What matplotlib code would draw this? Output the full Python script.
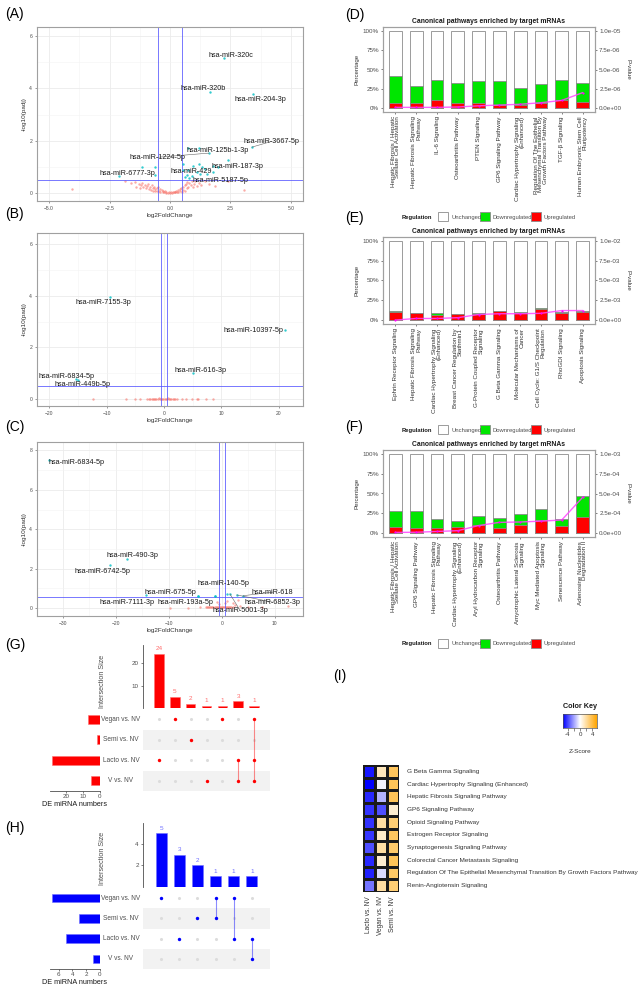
import matplotlib
matplotlib.use('Agg')
import matplotlib.pyplot as plt
import numpy as np
from matplotlib.patches import Rectangle
from matplotlib.colors import LinearSegmentedColormap

plt.rcParams['font.family'] = ['Liberation Sans', 'DejaVu Sans']

# ---------------- DATA ----------------
# Volcano A
red_A = [(-4.05, 0.15), (-1.85, 0.45), (-1.6, 0.38), (-1.45, 0.42), (-1.4, 0.25), (-1.3, 0.35),
         (-1.25, 0.2), (-1.2, 0.3), (-1.15, 0.4), (-1.1, 0.22), (-1.05, 0.32), (-1.0, 0.18),
         (-0.95, 0.28), (-0.9, 0.35), (-0.88, 0.15), (-0.82, 0.25), (-0.8, 0.12), (-0.75, 0.3),
         (-0.72, 0.2), (-0.7, 0.1), (-0.65, 0.22), (-0.62, 0.14), (-0.6, 0.08), (-0.55, 0.18),
         (-0.52, 0.1), (-0.5, 0.25), (-0.45, 0.07), (-0.42, 0.15), (-0.4, 0.05), (-0.35, 0.12),
         (-0.3, 0.04), (-0.28, 0.1), (-0.25, 0.03), (-0.2, 0.07), (-0.18, 0.02), (-0.15, 0.05),
         (-0.1, 0.02), (-0.05, 0.04), (0.0, 0.01), (0.03, 0.03), (0.08, 0.02), (0.12, 0.05),
         (0.15, 0.03), (0.2, 0.06), (0.22, 0.03), (0.25, 0.09), (0.3, 0.05), (0.33, 0.12),
         (0.35, 0.04), (0.4, 0.15), (0.42, 0.08), (0.45, 0.2), (0.5, 0.06), (0.52, 0.25),
         (0.55, 0.12), (0.6, 0.3), (0.62, 0.1), (0.65, 0.35), (0.7, 0.18), (0.72, 0.42),
         (0.75, 0.25), (0.8, 0.4), (0.85, 0.3), (0.9, 0.45), (0.95, 0.22), (1.0, 0.35),
         (1.05, 0.48), (1.1, 0.28), (1.2, 0.4), (1.3, 0.3), (1.45, 0.45), (1.6, 0.35),
         (1.85, 0.28), (2.4, 0.45), (3.05, 0.12)]
sig_A = [(-1.17, 1.0), (-0.62, 1.0), (-0.62, 0.7), (0.52, 1.13), (0.96, 1.04), (1.2, 1.13),
         (1.31, 1.0), (1.45, 0.94), (1.1, 0.81), (1.24, 0.75), (0.69, 0.69), (0.9, 0.65),
         (1.52, 0.75), (1.79, 0.81), (2.0, 1.0), (2.41, 1.25), (1.2, 1.72), (0.52, 0.87),
         (0.62, 0.62)]
# name, point x, point y, label x, label y, connector
lab_A = [("hsa-miR-320c", 2.23, 5.15, 2.52, 5.27, False),
         ("hsa-miR-320b", 1.65, 3.86, 1.36, 4.0, False),
         ("hsa-miR-204-3p", 3.43, 3.78, 3.72, 3.59, False),
         ("hsa-miR-3667-5p", 3.39, 1.76, 4.21, 1.98, True),
         ("hsa-miR-125b-1-3p", 0.74, 1.72, 1.98, 1.64, False),
         ("hsa-miR-1224-5p", 1.61, 1.53, -0.54, 1.37, True),
         ("hsa-miR-187-3p", 1.78, 1.03, 2.77, 1.03, False),
         ("hsa-miR-429", 0.73, 0.9, 0.87, 0.84, False),
         ("hsa-miR-6777-3p", -2.1, 0.66, -1.78, 0.76, False),
         ("hsa-miR-5187-5p", 0.77, 0.56, 2.07, 0.5, False)]

# Volcano B
red_B = [(-12.4, 0.02), (-6.6, 0.02), (-5.1, 0.01), (-4.2, 0.02), (-3.0, 0.01), (-2.6, 0.02),
         (-2.4, 0.0), (-2.1, 0.02), (-1.9, 0.01), (-1.7, 0.02), (-1.5, 0.0), (-1.3, 0.02),
         (-1.1, 0.01), (-0.9, 0.03), (-0.7, 0.0), (-0.5, 0.02), (-0.3, 0.01), (-0.1, 0.02),
         (0.1, 0.0), (0.3, 0.02), (0.5, 0.01), (0.7, 0.03), (0.9, 0.0), (1.1, 0.02),
         (1.3, 0.01), (1.5, 0.02), (1.7, 0.0), (2.0, 0.02), (2.2, 0.01), (3.1, 0.02),
         (3.9, 0.01), (4.8, 0.02), (5.7, 0.01), (6.0, 0.02), (7.4, 0.01), (8.6, 0.02)]
lab_B = [("hsa-miR-7155-3p", -9.4, 3.95, -10.6, 3.72, False),
         ("hsa-miR-10397-5p", 21.0, 2.67, 15.5, 2.67, False),
         ("hsa-miR-6834-5p", -15.3, 0.78, -16.9, 0.89, False),
         ("hsa-miR-449b-5p", -15.0, 0.72, -14.1, 0.58, False),
         ("hsa-miR-616-3p", 5.0, 1.0, 6.3, 1.12, False)]

# Volcano C
red_C = [(-9.8, 0.02), (-6.4, 0.03), (-4.2, 0.08), (-3.0, 0.05), (-2.8, 0.06), (-2.6, 0.04),
         (-2.4, 0.06), (-2.2, 0.05), (-2.0, 0.07), (-1.8, 0.04), (-1.6, 0.06), (-1.4, 0.05),
         (-1.2, 0.08), (-1.0, 0.05), (-0.8, 0.06), (-0.6, 0.04), (-0.4, 0.07), (-0.2, 0.05),
         (0.0, 0.06), (0.2, 0.04), (0.4, 0.07), (0.6, 0.05), (0.8, 0.06), (1.0, 0.05),
         (1.2, 0.07), (1.4, 0.05), (1.6, 0.06), (1.8, 0.05), (2.0, 0.07), (-1.0, 0.3),
         (1.0, 0.35), (2.0, 0.25), (3.0, 0.4), (2.5, 0.15), (3.5, 0.1), (5.0, 0.08),
         (7.5, 0.05), (12.5, 0.1), (-0.5, 0.2), (0.5, 0.25)]
sig_C = [(-4.5, 0.63), (-1.3, 0.63)]
lab_C = [("hsa-miR-6834-5p", -32.6, 7.5, -27.4, 7.41, False),
         ("hsa-miR-490-3p", -18.0, 2.5, -16.8, 2.69, False),
         ("hsa-miR-6742-5p", -21.1, 2.2, -22.6, 1.88, False),
         ("hsa-miR-140-5p", 0.9, 0.72, 0.2, 1.27, False),
         ("hsa-miR-675-5p", -14.3, 0.65, -9.8, 0.81, False),
         ("hsa-miR-618", 4.0, 0.63, 9.6, 0.81, True),
         ("hsa-miR-7111-3p", -4.5, 0.63, -17.9, 0.3, False),
         ("hsa-miR-193a-5p", -1.3, 0.63, -6.8, 0.3, False),
         ("hsa-miR-6852-3p", 2.8, 0.67, 9.6, 0.3, True),
         ("hsa-miR-5001-3p", 1.5, 0.72, 3.4, -0.1, True)]

# Pathway bar charts
path_D = ["Hepatic Fibrosis / Hepatic\nStellate Cell Activation", "Hepatic Fibrosis Signaling\nPathway",
          "IL-6 Signaling", "Osteoarthritis Pathway", "PTEN Signaling", "GP6 Signaling Pathway",
          "Cardiac Hypertrophy Signaling\n(Enhanced)",
          "Regulation Of The Epithelial\nMesenchymal Transition By\nGrowth Factors Pathway",
          "TGF-β Signaling", "Human Embryonic Stem Cell\nPluripotency"]
changed_D = [0.42, 0.28, 0.36, 0.32, 0.35, 0.35, 0.26, 0.31, 0.36, 0.33]
up_D = [0.06, 0.06, 0.10, 0.07, 0.07, 0.04, 0.04, 0.06, 0.11, 0.08]
pval_D = [0.1e-6, 0.1e-6, 0.1e-6, 0.15e-6, 0.3e-6, 0.4e-6, 0.5e-6, 0.7e-6, 1.0e-6, 2.0e-6]

path_E = ["Ephrin Receptor Signaling", "Hepatic Fibrosis Signaling\nPathway",
          "Cardiac Hypertrophy Signaling\n(Enhanced)", "Breast Cancer Regulation by\nStathmin1",
          "G-Protein Coupled Receptor\nSignaling", "G Beta Gamma Signaling",
          "Molecular Mechanisms of\nCancer", "Cell Cycle: G1/S Checkpoint\nRegulation",
          "RhoGDI Signaling", "Apoptosis Signaling"]
changed_E = [0.12, 0.09, 0.09, 0.08, 0.09, 0.12, 0.10, 0.15, 0.10, 0.12]
up_E = [0.10, 0.09, 0.07, 0.08, 0.08, 0.11, 0.09, 0.14, 0.09, 0.10]
pval_E = [0.0, 0.2e-3, 0.2e-3, 0.3e-3, 0.7e-3, 0.8e-3, 0.8e-3, 0.85e-3, 1.2e-3, 1.2e-3]

path_F = ["Hepatic Fibrosis / Hepatic\nStellate Cell Activation", "GP6 Signaling Pathway",
          "Hepatic Fibrosis Signaling\nPathway", "Cardiac Hypertrophy Signaling\n(Enhanced)",
          "Aryl Hydrocarbon Receptor\nSignaling", "Osteoarthritis Pathway",
          "Amyotrophic Lateral Sclerosis\nSignaling", "Myc Mediated Apoptosis\nSignaling",
          "Senescence Pathway", "Adenosine Nucleotides\nDegradation II"]
changed_F = [0.28, 0.28, 0.18, 0.15, 0.22, 0.19, 0.24, 0.30, 0.18, 0.47]
up_F = [0.08, 0.06, 0.07, 0.08, 0.10, 0.07, 0.10, 0.17, 0.09, 0.20]
pval_F = [0.08e-4, 0.1e-4, 0.2e-4, 0.3e-4, 0.95e-4, 1.35e-4, 1.4e-4, 1.5e-4, 1.65e-4, 4.5e-4]

# UpSet G / H
set_names = ["Vegan vs. NV", "Semi vs. NV", "Lacto vs. NV", "V vs. NV"]
combos_G = [["Lacto vs. NV"], ["Vegan vs. NV"], ["Semi vs. NV"], ["V vs. NV"], ["Vegan vs. NV"],
            ["Lacto vs. NV", "V vs. NV"], ["Vegan vs. NV", "Lacto vs. NV", "V vs. NV"]]
counts_G = [24, 5, 2, 1, 1, 3, 1]
sizes_G = [7, 2, 28, 5]
combos_H = [["Vegan vs. NV"], ["Lacto vs. NV"], ["Semi vs. NV"], ["Vegan vs. NV", "Semi vs. NV"],
            ["Vegan vs. NV", "Lacto vs. NV"], ["Lacto vs. NV", "V vs. NV"]]
counts_H = [5, 3, 2, 1, 1, 1]
sizes_H = [7, 3, 5, 1]

# Heatmap I
heat_rows = ["G Beta Gamma Signaling", "Cardiac Hypertrophy Signaling (Enhanced)",
             "Hepatic Fibrosis Signaling Pathway", "GP6 Signaling Pathway", "Opioid Signaling Pathway",
             "Estrogen Receptor Signaling", "Synaptogenesis Signaling Pathway",
             "Colorectal Cancer Metastasis Signaling",
             "Regulation Of The Epithelial Mesenchymal Transition By Growth Factors Pathway",
             "Renin-Angiotensin Signaling"]
heat_cols = ["Lacto vs. NV", "Vegan vs. NV", "Semi vs. NV"]
z_lacto = [-5.0, -5.5, -4.6, -4.4, -4.4, -4.3, -3.8, -4.6, -4.8, -3.0]
z_vegan = [1.5, -0.3, -1.6, -3.8, 2.0, 1.2, 2.0, 1.0, -0.8, 2.0]
z_semi = [3.5, 3.6, 3.6, 1.0, 3.0, 3.4, 3.2, 3.6, 3.3, 3.0]

# ---------------- FIGURE ----------------
W, H = 641, 988
fig = plt.figure(figsize=(W / 100, H / 100), dpi=100)


def ax_px(l, t, r, b):
    return fig.add_axes([l / W, 1 - b / H, (r - l) / W, (b - t) / H])


def ftext(x, y, s, **kw):
    fig.text(x / W, 1 - y / H, s, **kw)


def frect(l, t, w, h, **kw):
    fig.patches.append(Rectangle((l / W, 1 - (t + h) / H), w / W, h / H,
                                 transform=fig.transFigure, **kw))


TICKC = '#4d4d4d'
RED_PT = '#F8766D'
CYAN_PT = '#00BFC4'


def volcano(box, xlim, ylim, xmaj, xmin, ymaj, ymin, red, sig, labs, vl, hl):
    ax = ax_px(*box)
    ax.set_xlim(xlim)
    ax.set_ylim(ylim)
    ax.set_xticks(xmaj)
    ax.set_xticks(xmin, minor=True)
    ax.set_yticks(ymaj)
    ax.set_yticks(ymin, minor=True)
    ax.grid(True, which='major', color='#ebebeb', lw=0.6)
    ax.grid(True, which='minor', color='#f3f3f3', lw=0.4)
    ax.set_axisbelow(True)
    ax.tick_params(which='major', labelsize=3.6, colors=TICKC, length=1.5, width=0.4, pad=2)
    ax.tick_params(which='minor', length=0)
    for s in ax.spines.values():
        s.set_color('#a0a0a0')
        s.set_linewidth(0.8)
    rx = [p[0] for p in red]
    ry = [p[1] for p in red]
    ax.scatter(rx, ry, s=3, color=RED_PT, alpha=0.6, lw=0, zorder=2)
    sx = [p[0] for p in sig] + [l[1] for l in labs]
    sy = [p[1] for p in sig] + [l[2] for l in labs]
    ax.scatter(sx, sy, s=3, color=CYAN_PT, alpha=0.8, lw=0, zorder=3)
    for v in vl:
        ax.axvline(v, color='#5555ff', lw=0.7, alpha=0.8, zorder=2.5)
    ax.axhline(hl, color='#5555ff', lw=0.7, alpha=0.8, zorder=2.5)
    for name, px, py, tx, ty, con in labs:
        if con:
            ax.plot([px, tx], [py, ty], color='#666666', lw=0.4, zorder=3)
        ax.text(tx, ty, name, fontsize=5.2, ha='center', va='center', color='#1a1a1a', zorder=4)
    ax.set_xlabel('log2FoldChange', fontsize=4.6, color='#333333', labelpad=1.5)
    ax.set_ylabel('-log10(padj)', fontsize=4.6, color='#333333', labelpad=2)
    return ax


# A
volcano((37, 27, 303, 201), (-5.5, 5.5), (-0.3, 6.35), [-5, -2.5, 0, 2.5, 5],
        [-3.75, -1.25, 1.25, 3.75], [0, 2, 4, 6], [1, 3, 5], red_A, sig_A, lab_A, [-0.5, 0.5], 0.52)
# B
volcano((37, 233, 303, 406), (-22.1, 24.2), (-0.27, 6.43), [-20, -10, 0, 10, 20],
        [-15, -5, 5, 15], [0, 2, 4, 6], [1, 3, 5], red_B, [], lab_B, [-0.5, 0.5], 0.5)
# C
volcano((37, 442, 303, 616), (-34.9, 15.3), (-0.4, 8.43), [-30, -20, -10, 0, 10],
        [-25, -15, -5, 5], [0, 2, 4, 6, 8], [1, 3, 5, 7], red_C, sig_C, lab_C, [-0.5, 0.5], 0.56)

ftext(5, 14, '(A)', fontsize=10, va='center')
ftext(5, 214, '(B)', fontsize=10, va='center')
ftext(5, 427, '(C)', fontsize=10, va='center')


# Pathway bar charts
def pathway(top, bottom, labels, changed, up, pvals, pmax, plabels):
    ax = ax_px(383, top, 595, bottom)
    n = len(labels)
    xs = np.arange(n)
    w = 0.62
    ec = '#8c8c8c'
    ax.bar(xs, [1.0] * n, width=w, color='white', edgecolor=ec, lw=0.6, zorder=2)
    ax.bar(xs, changed, width=w, color='#00e600', edgecolor=ec, lw=0.6, zorder=3)
    ax.bar(xs, up, width=w, color='#ff0000', edgecolor=ec, lw=0.6, zorder=4)
    ax.set_xlim(-0.6, n - 0.4)
    ax.set_ylim(-0.05, 1.05)
    ax.set_yticks([0, 0.25, 0.5, 0.75, 1.0])
    ax.set_yticklabels(['0%', '25%', '50%', '75%', '100%'])
    ax.set_xticks(xs)
    ax.set_xticklabels(labels, rotation=90, ha='center', va='top', multialignment='right',
                       fontsize=4.5, color='#333333', linespacing=0.95)
    ax.tick_params(axis='y', labelsize=4.5, colors=TICKC, length=1.5, width=0.5, pad=1.5)
    ax.tick_params(axis='x', length=1.5, width=0.5, pad=1.5, colors=TICKC)
    for lbl in ax.get_xticklabels():
        lbl.set_color('#333333')
    for s in ax.spines.values():
        s.set_color('#a0a0a0')
        s.set_linewidth(0.8)
    ax.set_ylabel('Percentage', fontsize=4.4, color='#333333', labelpad=2)
    ax2 = ax.twinx()
    ax2.set_ylim(-0.05 * pmax, 1.05 * pmax)
    ax2.set_yticks([0, 0.25 * pmax, 0.5 * pmax, 0.75 * pmax, pmax])
    ax2.set_yticklabels(plabels)
    ax2.tick_params(axis='y', labelsize=4.5, colors=TICKC, length=1.5, width=0.5, pad=1.5)
    ax2.plot(xs, pvals, color='#ff44ff', lw=1.0, alpha=0.85, zorder=5)
    ax2.scatter(xs, pvals, s=2.5, color='#ff00ff', zorder=6, lw=0)
    ax2.set_ylabel('P-value', fontsize=4.4, color='#333333', rotation=270, labelpad=6)
    for s in ax2.spines.values():
        s.set_color('#a0a0a0')
        s.set_linewidth(0.8)
    ax.set_title('Canonical pathways enriched by target mRNAs', fontsize=4.9,
                 fontweight='bold', color='#1a1a1a', pad=3)
    return ax


pathway(27, 112, path_D, changed_D, up_D, pval_D, 1e-5,
        ['0.0e+00', '2.5e-06', '5.0e-06', '7.5e-06', '1.0e-05'])
pathway(237, 324, path_E, changed_E, up_E, pval_E, 1e-2,
        ['0.0e+00', '2.5e-03', '5.0e-03', '7.5e-03', '1.0e-02'])
pathway(450, 537, path_F, changed_F, up_F, pval_F, 1e-3,
        ['0.0e+00', '2.5e-04', '5.0e-04', '7.5e-04', '1.0e-03'])

ftext(345, 15, '(D)', fontsize=10, va='center')
ftext(345, 218, '(E)', fontsize=10, va='center')
ftext(345, 427, '(F)', fontsize=10, va='center')


def reg_legend(yc):
    ftext(417, yc, 'Regulation', fontsize=4.2, fontweight='bold', ha='center', va='center', color='#1a1a1a')
    frect(438, yc - 4.5, 10, 9, facecolor='white', edgecolor='#8c8c8c', lw=0.6)
    ftext(451, yc, 'Unchanged', fontsize=4.2, ha='left', va='center', color='#4d4d4d')
    frect(480, yc - 4.5, 10, 9, facecolor='#00e600', edgecolor='#8c8c8c', lw=0.6)
    ftext(492, yc, 'Downregulated', fontsize=4.2, ha='left', va='center', color='#4d4d4d')
    frect(531, yc - 4.5, 10, 9, facecolor='#ff0000', edgecolor='#8c8c8c', lw=0.6)
    ftext(543, yc, 'Upregulated', fontsize=4.2, ha='left', va='center', color='#4d4d4d')


reg_legend(217)
reg_legend(430)
reg_legend(643)


# UpSet plots
def upset(top_t, top_b, mat_t, mat_b, combos, counts, sizes, ylim_top, yticks_top,
          xlim_set, xticks_set, color, numcolor, lbl_y):
    nc = len(combos)
    axt = ax_px(143, top_t, 270, top_b)
    xs = np.arange(nc)
    axt.bar(xs, counts, width=0.6, color=color, edgecolor=numcolor, lw=0.4)
    for x, c in zip(xs, counts):
        axt.text(x, c + ylim_top * 0.04, str(c), ha='center', va='bottom', fontsize=4.6, color=numcolor)
    axt.set_xlim(-1, nc)
    axt.set_ylim(0, ylim_top)
    axt.set_yticks(yticks_top)
    axt.set_xticks([])
    for k in ['top', 'right', 'bottom']:
        axt.spines[k].set_visible(False)
    axt.spines['left'].set_color('#4d4d4d')
    axt.spines['left'].set_linewidth(0.6)
    axt.tick_params(axis='y', labelsize=4.5, colors=TICKC, length=1.5, width=0.5, pad=1.5)
    axt.patch.set_alpha(0)
    ftext(102, lbl_y, 'Intersection Size', fontsize=5.2, rotation=90, ha='center', va='center', color='#4d4d4d')
    axm = ax_px(143, mat_t, 270, mat_b)
    axm.set_xlim(-1, nc)
    axm.set_ylim(-0.5, 3.5)
    for i, nm in enumerate(set_names):
        yv = 3 - i
        if i % 2 == 1:
            axm.add_patch(Rectangle((-1, yv - 0.5), nc + 1, 1, color='#f2f2f2', lw=0, zorder=0))
    for j, combo in enumerate(combos):
        ys_in = [3 - set_names.index(s) for s in combo]
        for i in range(4):
            yv = 3 - i
            if yv not in ys_in:
                axm.scatter([j], [yv], s=5, color='#dcdcdc', lw=0, zorder=2)
        if len(ys_in) > 1:
            axm.plot([j, j], [min(ys_in), max(ys_in)], color=color, lw=0.8, alpha=0.45, zorder=2)
        axm.scatter([j] * len(ys_in), ys_in, s=6, color=color, lw=0, zorder=3)
    axm.axis('off')
    axs = ax_px(50, mat_t, 100, mat_b)
    yvals = [3 - i for i in range(4)]
    axs.barh(yvals, sizes, height=0.42, color=color, edgecolor=numcolor, lw=0.4)
    axs.set_xlim(xlim_set)
    axs.set_ylim(-0.5, 3.5)
    axs.set_xticks(xticks_set)
    axs.set_yticks([])
    for k in ['top', 'right', 'left']:
        axs.spines[k].set_visible(False)
    axs.spines['bottom'].set_color('#4d4d4d')
    axs.spines['bottom'].set_linewidth(0.6)
    axs.tick_params(axis='x', labelsize=4.5, colors=TICKC, length=1.5, width=0.5, pad=1)
    axs.set_xlabel('DE miRNA numbers', fontsize=5.2, color='#1a1a1a', labelpad=1)
    axs.patch.set_alpha(0)
    for i, nm in enumerate(set_names):
        yv = 3 - i
        y_px = mat_t + (3.5 - yv) / 4.0 * (mat_b - mat_t)
        ftext(121, y_px, nm, fontsize=4.7, ha='center', va='center', color='#4d4d4d')


upset(645, 708, 709, 791, combos_G, counts_G, sizes_G, 28, [10, 20], (29.4, 0), [20, 10, 0],
      '#ff0000', '#ff6f6f', 681)
upset(823, 887, 888, 969, combos_H, counts_H, sizes_H, 5.95, [2, 4], (7.25, 0), [6, 4, 2, 0],
      '#0000ff', '#7070ff', 858)

ftext(5, 645, '(G)', fontsize=10, va='center')
ftext(5, 828, '(H)', fontsize=10, va='center')

# Heatmap I
ftext(333, 676, '(I)', fontsize=10, va='center')
cmap = LinearSegmentedColormap.from_list('bwo', ['#0000ff', '#ffffff', '#ffa500'])
Z = np.array([z_lacto, z_vegan, z_semi]).T
axh = ax_px(363, 765, 399, 892)
axh.pcolormesh(np.arange(4), np.arange(len(heat_rows) + 1), Z, cmap=cmap, vmin=-5.5, vmax=5.5,
               edgecolors='#1a1a1a', linewidth=0.8)
axh.set_xlim(0, 3)
axh.set_ylim(len(heat_rows), 0)
axh.set_xticks(np.arange(3) + 0.5)
axh.set_xticklabels(heat_cols, rotation=90, fontsize=4.7, color='#333333')
axh.set_yticks([])
axh.tick_params(axis='x', length=0, pad=3)
for s in axh.spines.values():
    s.set_visible(False)
for i, r in enumerate(heat_rows):
    y_px = 765 + (i + 0.5) * (892 - 765) / len(heat_rows)
    ftext(407, y_px, r, fontsize=4.55, ha='left', va='center', color='#333333')

# Color key
ftext(580, 707, 'Color Key', fontsize=5.2, fontweight='bold', ha='center', va='center', color='#1a1a1a')
axk = ax_px(563, 714, 597, 728)
grad = np.linspace(-5.5, 5.5, 200).reshape(1, -1)
axk.imshow(grad, aspect='auto', cmap=cmap, vmin=-5.5, vmax=5.5, extent=(-5.5, 5.5, 0, 1))
axk.set_xlim(-5.5, 5.5)
axk.set_yticks([])
axk.set_xticks([-4, -2, 0, 2, 4])
axk.set_xticklabels(['-4', '', '0', '', '4'])
axk.tick_params(axis='x', labelsize=4.4, colors='#333333', length=2, width=0.4, pad=1)
for s in axk.spines.values():
    s.set_linewidth(0.5)
    s.set_color('#555555')
ftext(580, 751, 'Z-Score', fontsize=4.6, ha='center', va='center', color='#333333')

fig.savefig('out.png', dpi=100)
